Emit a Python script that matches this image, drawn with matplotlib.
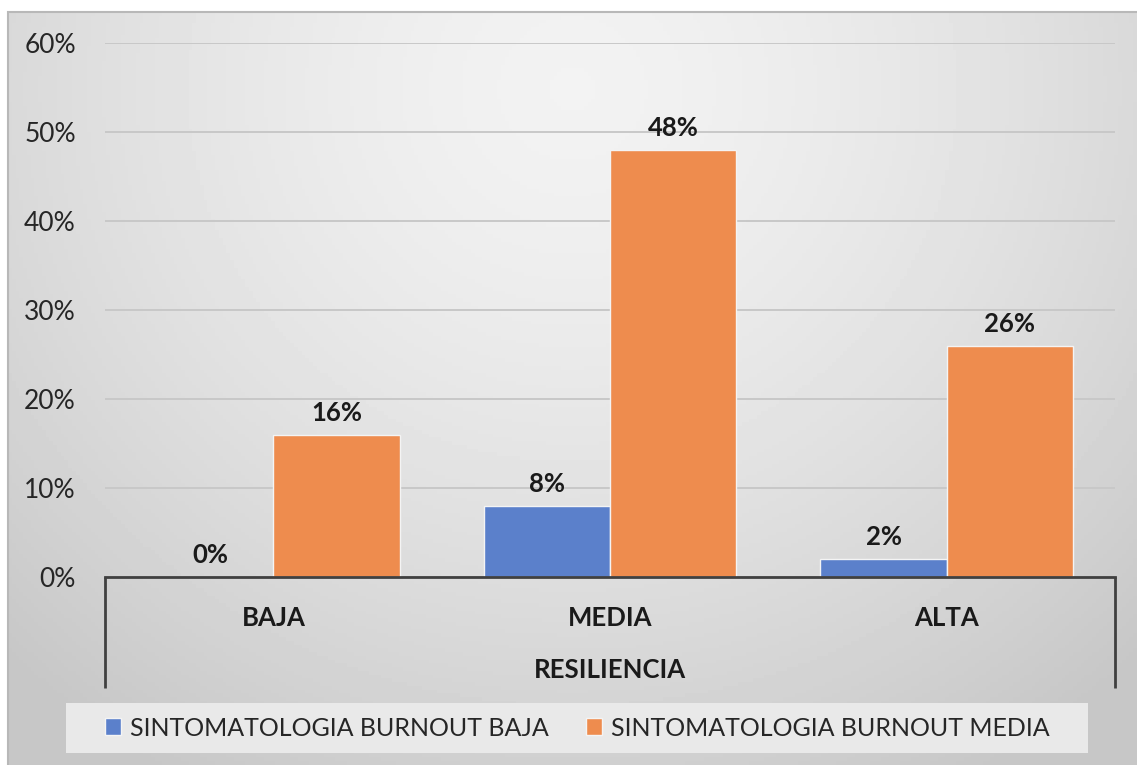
import numpy as np
import matplotlib
matplotlib.use("Agg")
import matplotlib.pyplot as plt
from matplotlib.patches import Rectangle
from matplotlib.ticker import PercentFormatter

plt.rcParams["font.family"] = ["Lato", "DejaVu Sans"]

# data
categories = ["BAJA", "MEDIA", "ALTA"]
burnout_baja = [0.00, 0.08, 0.02]
burnout_media = [0.16, 0.48, 0.26]
series_names = ["SINTOMATOLOGIA BURNOUT BAJA", "SINTOMATOLOGIA BURNOUT MEDIA"]
axis_title = "RESILIENCIA"

BLUE = "#5b80cb"
ORANGE = "#ee8c4e"
W, H = 1137, 765

fig = plt.figure(figsize=(W / 100, H / 100), dpi=100)

# chart area background: soft grey gradient, lighter in the upper middle
bg = fig.add_axes([8 / W, 0, 1 - 8 / W, 1 - 12 / H], zorder=-2)
yy, xx = np.mgrid[0:1:200j, 0:1:300j]
dist = np.sqrt(((xx - 0.5) / 0.72) ** 2 + ((yy - 0.1) / 1.05) ** 2)
shade = 0.95 - 0.17 * np.clip(dist, 0, 1) ** 1.5
bg.imshow(shade, cmap="gray", vmin=0, vmax=1, aspect="auto", extent=[0, 1, 1, 0])
bg.set_axis_off()
fig.add_artist(Rectangle((8 / W, -0.01), 1, 1 + 0.01 - 12 / H, transform=fig.transFigure,
                         facecolor="none", edgecolor="#b8b8b8", lw=1.5, zorder=-1))

# legend band
fig.add_artist(Rectangle((66 / W, 1 - 753 / H), (1088 - 66) / W, 50 / H,
                         transform=fig.transFigure, facecolor="#e9e9e9",
                         edgecolor="none", zorder=0))

ax = fig.add_axes([105 / W, 1 - 577 / H, 1010 / W, 534 / H])
ax.patch.set_alpha(0)

x = np.arange(len(categories))
bw = 0.375
b1 = ax.bar(x - bw / 2, burnout_baja, bw, color=BLUE, edgecolor="#f4f4f4", lw=1,
            label=series_names[0], zorder=3)
b2 = ax.bar(x + bw / 2, burnout_media, bw, color=ORANGE, edgecolor="#f4f4f4", lw=1,
            label=series_names[1], zorder=3)

for bars in (b1, b2):
    ax.bar_label(bars, labels=[f"{v:.0%}" for v in bars.datavalues], padding=7,
                 fontsize=18.5, fontweight="bold", color="#1a1a1a")

ax.set_xlim(-0.5, len(categories) - 0.5)
ax.set_ylim(0, 0.6)
ax.set_yticks(np.arange(0, 0.61, 0.1))
ax.yaxis.set_major_formatter(PercentFormatter(1, decimals=0))
ax.tick_params(axis="y", length=0, pad=21, labelsize=19, labelcolor="#262626")
ax.set_xticks(x, categories)
ax.tick_params(axis="x", length=0, pad=21, labelsize=18.5, labelcolor="#1a1a1a")
for lab in ax.get_xticklabels():
    lab.set_fontweight("bold")
ax.set_xlabel(axis_title, fontsize=18.5, fontweight="bold", color="#1a1a1a", labelpad=20)

ax.grid(axis="y", color="#c8c8c8", lw=1.4, zorder=0)
ax.set_axisbelow(True)
for side in ("top", "left", "right"):
    ax.spines[side].set_visible(False)
ax.spines["bottom"].set_color("#404040")
ax.spines["bottom"].set_linewidth(2)
ax.spines["bottom"].set_zorder(4)

# brackets of the grouped category axis
for xa in (0, 1):
    ax.plot([xa, xa], [0, -0.208], transform=ax.transAxes, color="#404040",
            lw=2, clip_on=False, solid_capstyle="butt")

ax.legend(loc="center", bbox_to_anchor=(577 / W, 1 - 728 / H),
          bbox_transform=fig.transFigure, ncol=2, frameon=False,
          fontsize=18, handlelength=0.65, handleheight=0.65,
          handletextpad=0.35, columnspacing=1.5, labelcolor="#262626")

fig.savefig("out.png", dpi=100)
